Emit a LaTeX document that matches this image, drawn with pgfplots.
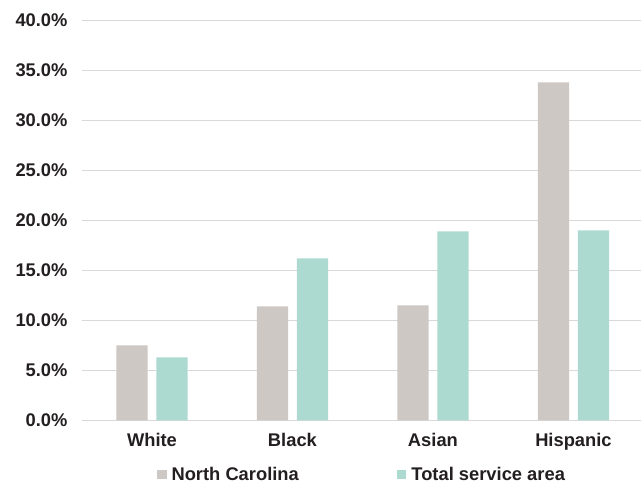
\documentclass[border=0pt]{standalone}
\usepackage{fontspec}
\setmainfont{Liberation Sans}
\usepackage{pgfplots}
\pgfplotsset{compat=1.18}

\definecolor{ncgray}{RGB}{205,200,196}
\definecolor{tsateal}{RGB}{173,218,208}
\definecolor{gridgray}{RGB}{217,217,217}
\definecolor{labeltext}{RGB}{35,31,32}

\newcommand{\chartfont}{\bfseries\fontsize{18.4}{22}\selectfont}

\begin{document}
\begin{tikzpicture}
\begin{axis}[
  scale only axis,
  width=562bp, height=400bp,
  xmin=-0.5, xmax=3.5,
  ymin=0, ymax=40,
  axis line style={draw=none},
  ymajorgrids,
  grid style={gridgray, line width=1bp},
  major tick length=0pt,
  xtick={0,1,2,3},
  xticklabels={White,Black,Asian,Hispanic},
  ytick={0,5,10,15,20,25,30,35,40},
  yticklabels={0.0\%,5.0\%,10.0\%,15.0\%,20.0\%,25.0\%,30.0\%,35.0\%,40.0\%},
  ticklabel style={font=\chartfont, text=labeltext},
  yticklabel style={xshift=-10.7bp},
  xticklabel style={yshift=-9.5bp},
  ybar,
  bar width=31.3bp,
  legend columns=2,
  legend style={
    draw=none, fill=none,
    at={(0.4987,-0.136)}, anchor=center,
    font=\chartfont, text=labeltext,
    /tikz/every even column/.append style={column sep=96bp},
  },
]
% legend swatches: a small square plus a little room before the text
\addplot[fill=ncgray, draw=none, bar shift=-20bp,
  legend image code/.code={%
    \fill[ncgray] (0bp,-4.4bp) rectangle (9.6bp,5.2bp);
    \path (0bp,0bp) -- (12.6bp,0bp);}]
  coordinates {(0,7.5) (1,11.4) (2,11.5) (3,33.8)};
\addlegendentry{North Carolina}
\addplot[fill=tsateal, draw=none, bar shift=20bp,
  legend image code/.code={%
    \fill[tsateal] (0bp,-4.4bp) rectangle (9.6bp,5.2bp);
    \path (0bp,0bp) -- (12.6bp,0bp);}]
  coordinates {(0,6.3) (1,16.2) (2,18.9) (3,19.0)};
\addlegendentry{Total service area}
\end{axis}
\pgfresetboundingbox
\path[use as bounding box]
  ([xshift=-81.7bp,yshift=-66.7bp]current axis.south west)
  rectangle ([xshift=-2.7bp,yshift=20.3bp]current axis.north east);
\end{tikzpicture}
\end{document}
